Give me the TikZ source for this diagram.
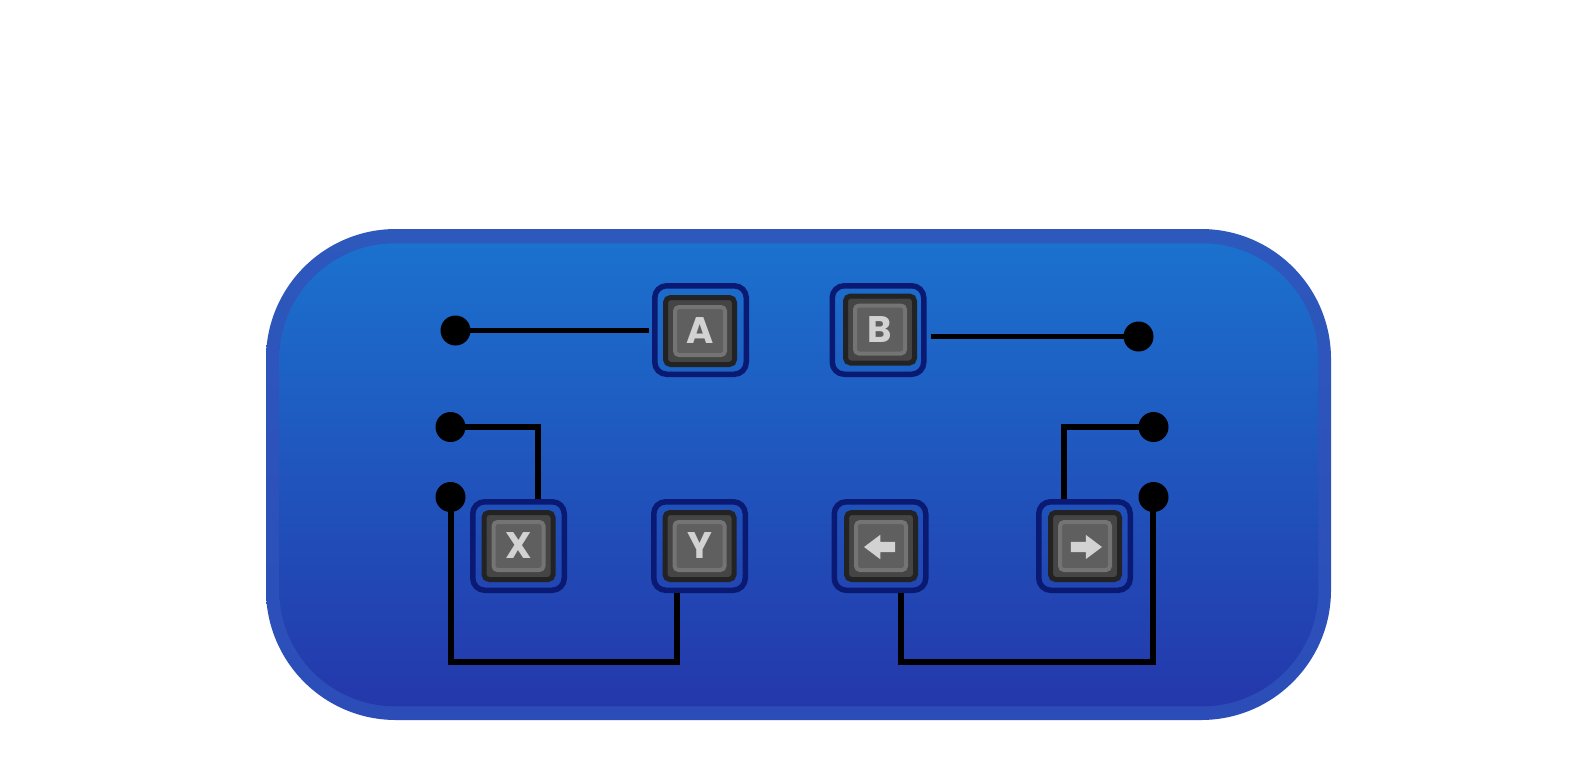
\documentclass[tikz,border=0pt]{standalone}
\usepackage{fontspec}
\setsansfont{Poppins}
\usetikzlibrary{shapes.arrows}
\definecolor{padBlueT}{HTML}{1B71CE}
\definecolor{padBlueB}{HTML}{2438AB}
\definecolor{padRimT}{HTML}{2D58BC}
\definecolor{padRimB}{HTML}{2C4DB8}
\definecolor{padNavy}{HTML}{0A1A72}
\definecolor{padDark}{HTML}{232323}
\definecolor{padBody}{HTML}{454545}
\definecolor{padCapL}{HTML}{747474}
\definecolor{padCap}{HTML}{5F5F5F}
\definecolor{padGlyph}{HTML}{D2D2D2}
\tikzset{
  pad-rim/.style={rounded corners=130pt, minimum width=1065pt, minimum height=491pt,
    inner sep=0pt, top color=padRimT, bottom color=padRimB},
  pad-face/.style={rounded corners=116pt, minimum width=1039pt, minimum height=463pt,
    inner sep=0pt, top color=padBlueT, bottom color=padBlueB},
  key-rim/.style={draw=padNavy, line width=5.5pt, rounded corners=12pt, inner sep=0pt,
    minimum width=91.5pt, minimum height=88.5pt},
  key-body/.style={draw=padDark, line width=5pt, fill=padBody, rounded corners=5pt,
    inner sep=0pt, minimum width=69pt, minimum height=67pt},
  key-cap/.style={draw=padCapL, line width=4pt, fill=padCap, rounded corners=4pt,
    inner sep=0pt, minimum width=50pt, minimum height=48pt, text=padGlyph,
    text height=25pt, text depth=0pt, font=\fontsize{37}{37}\sffamily\bfseries},
  key-arrow/.style={single arrow, fill=padGlyph, inner xsep=0pt, inner ysep=5pt,
    minimum height=31pt, single arrow head extend=7pt, single arrow tip angle=74},
  pad-dot/.style={circle, fill=black, inner sep=0pt, minimum size=30pt},
  pad-wire/.style={draw=black, line width=5.5pt, line join=miter}
}
\begin{document}
\begin{tikzpicture}[x=1pt, y=-1pt]
\useasboundingbox[fill=white] (0,0) rectangle (1594,782);
% Panel
\node[pad-rim] (rim) at (798.5,474.5) {};
\node[pad-face] (face) at (798.8,474.8) {};

% Top row
\node[key-rim] (keyA) at (700.5,330) {};
\node[key-body] (bodyA) at (700,331) {};
\node[key-cap] (capA) at (700,331) {A};
\node[key-rim] (keyB) at (878,330) {};
\node[key-body] (bodyB) at (880,329.5) {};
\node[key-cap] (capB) at (880,329.5) {B};

% Bottom row
\node[key-rim] (keyX) at (518.5,546) {};
\node[key-body] (bodyX) at (518.5,546) {};
\node[key-cap] (capX) at (518.5,546) {X};
\node[key-rim] (keyY) at (699.5,546) {};
\node[key-body] (bodyY) at (699.5,546) {};
\node[key-cap] (capY) at (699.5,546) {Y};
\node[key-rim] (keyLeft) at (880,546) {};
\node[key-body] (bodyLeft) at (881,546) {};
\node[key-cap] (capLeft) at (881,546) {};
\node[key-arrow, shape border rotate=180] (arrowLeft) at (883,547) {};
\node[key-rim] (keyRight) at (1084.5,546) {};
\node[key-body] (bodyRight) at (1085,546) {};
\node[key-cap] (capRight) at (1085,546) {};
\node[key-arrow] (arrowRight) at (1083,547) {};

% Contacts
\node[pad-dot] (dotA) at (455.5,330.5) {};
\node[pad-dot] (dotB) at (1138.5,336.5) {};
\node[pad-dot] (dotX) at (450.5,427) {};
\node[pad-dot] (dotY) at (450.5,497) {};
\node[pad-dot] (dotRight) at (1153.5,427) {};
\node[pad-dot] (dotLeft) at (1153.5,497) {};
\coordinate (busY) at (451,662);
\coordinate (busLeft) at (1153,662);

% Wires
\draw[pad-wire, shorten >=3pt] (dotA.center) -- (keyA.west |- dotA);
\draw[pad-wire, shorten <=4pt] (keyB.east |- dotB) -- (dotB.center);
\draw[pad-wire] (dotX.center) -| ([xshift=19.5pt]keyX.north);
\draw[pad-wire] (dotRight.center) -| ([xshift=-20.5pt]keyRight.north);
\draw[pad-wire] (busY |- dotY) -- (busY) -| ([xshift=-22.5pt]keyY.south);
\draw[pad-wire] (busLeft |- dotLeft) -- (busLeft) -| ([xshift=21pt]keyLeft.south);
\end{tikzpicture}
\end{document}
